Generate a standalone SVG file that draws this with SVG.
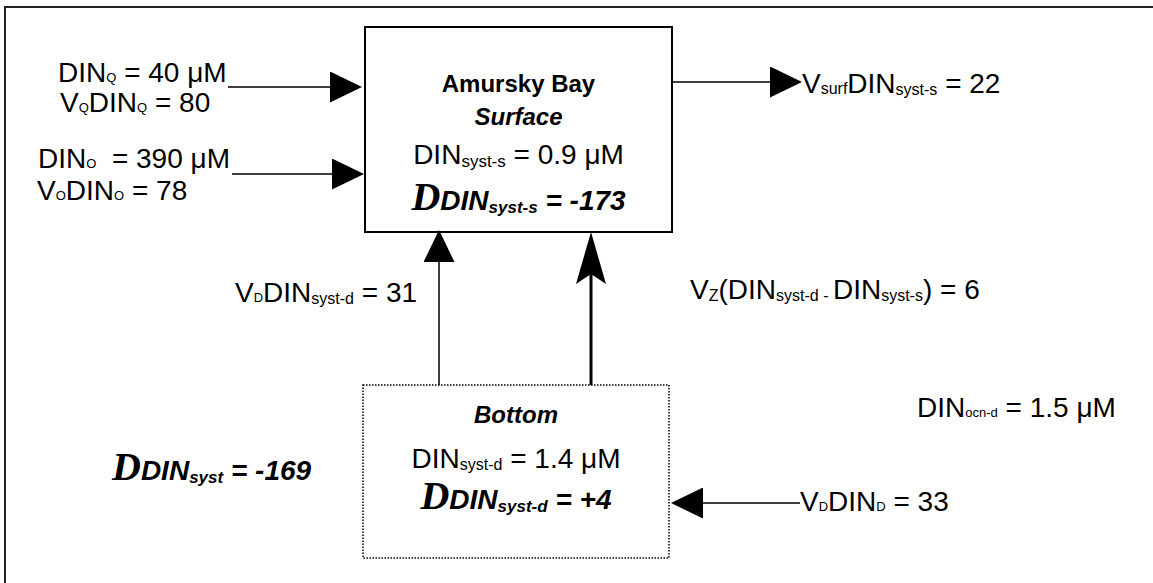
<svg xmlns="http://www.w3.org/2000/svg" width="1153" height="583" viewBox="0 0 1153 583">
<style>
.t{font-family:"Liberation Sans",Arial,sans-serif;font-size:28px;fill:#000}
.h{font-size:24px}
.b{font-weight:bold}
.bi{font-weight:bold;font-style:italic}
.ss{font-size:13px}
.sm{font-size:16px}
.sb{font-size:17px}
.bigD{font-family:"Liberation Serif","Times New Roman",serif;font-weight:bold;font-style:italic;font-size:40px}
.box{fill:#fff;stroke:#000;stroke-width:2}
.dot{fill:#fff;stroke:#000;stroke-width:1.5;stroke-dasharray:1.5 1.5}
.ln{stroke:#000;stroke-width:1.5;fill:none}
.lnb{stroke:#000;stroke-width:3;fill:none}
</style>
<defs>
<marker id="tri" markerUnits="userSpaceOnUse" markerWidth="32" markerHeight="31" refX="0" refY="15.5" orient="auto" viewBox="0 0 32 31"><path d="M0,0 L32,15.5 L0,31 z" fill="#000"/></marker>
<marker id="barb" markerUnits="userSpaceOnUse" markerWidth="52" markerHeight="30" refX="10" refY="15" orient="auto" viewBox="0 0 52 30"><path d="M0,0 L52,15 L0,30 L10,15 z" fill="#000"/></marker>
</defs>
<rect width="1153" height="583" fill="#fff"/>
<g id="frame"><path d="M5,590 L5,7 L1160,7" fill="none" stroke="#222" stroke-width="2"/></g>

<g id="surface">
<rect class="box" x="365" y="27" width="307" height="205"/>
<text class="t b h" x="518.5" y="92" text-anchor="middle">Amursky Bay</text>
<text class="t bi h" x="518.5" y="125" text-anchor="middle">Surface</text>
<text class="t" x="518.5" y="164" text-anchor="middle">DIN<tspan class="sb" dy="3">syst-s</tspan><tspan dy="-3"> = 0.9 μM</tspan></text>
<text class="t bi" x="518.5" y="210" text-anchor="middle"><tspan class="bigD">D</tspan>DIN<tspan class="sb" dy="3">syst-s</tspan><tspan dy="-3"> = -173</tspan></text>
</g>

<g id="bottom">
<rect class="dot" x="363" y="385" width="306" height="173"/>
<text class="t bi h" x="516" y="423" text-anchor="middle">Bottom</text>
<text class="t" x="516" y="468" text-anchor="middle">DIN<tspan class="sm" dy="2">syst-d</tspan><tspan dy="-2"> = 1.4 μM</tspan></text>
<text class="t bi" x="516" y="509" text-anchor="middle"><tspan class="bigD">D</tspan>DIN<tspan class="sb" dy="3">syst-d</tspan><tspan dy="-3"> = +4</tspan></text>
</g>

<g id="connectors">
<line class="ln" x1="228" y1="87" x2="330" y2="87" marker-end="url(#tri)"/>
<line class="ln" x1="232" y1="174" x2="332" y2="174" marker-end="url(#tri)"/>
<line class="ln" x1="672" y1="82" x2="770" y2="82" marker-end="url(#tri)"/>
<line class="ln" x1="439" y1="385" x2="439" y2="262" marker-end="url(#tri)"/>
<line class="lnb" x1="591" y1="385" x2="591" y2="274" marker-end="url(#barb)"/>
<line class="ln" x1="800" y1="503" x2="703" y2="503" marker-end="url(#tri)"/>
</g>

<g id="labels">
<text class="t" x="58" y="82">DIN<tspan class="ss">Q</tspan> = 40 μM</text>
<text class="t" x="60" y="112">V<tspan class="ss">Q</tspan>DIN<tspan class="ss">Q</tspan> = 80</text>
<text class="t" x="38" y="168">DIN<tspan class="ss">O</tspan>&#160; = 390 μM</text>
<text class="t" x="37" y="200">V<tspan class="ss">O</tspan>DIN<tspan class="ss">O</tspan> = 78</text>
<text class="t" x="802" y="93">V<tspan class="sm" dy="1">surf</tspan><tspan dy="-1">DIN</tspan><tspan class="sm" dy="2">syst-s</tspan><tspan dy="-2"> = 22</tspan></text>
<text class="t" x="235" y="302">V<tspan class="ss">D</tspan>DIN<tspan class="sm" dy="2">syst-d</tspan><tspan dy="-2"> = 31</tspan></text>
<text class="t" x="690" y="299">V<tspan class="sm" dy="2">Z</tspan><tspan dy="-2">(DIN</tspan><tspan class="sm" dy="2">syst-d - </tspan><tspan dy="-2">DIN</tspan><tspan class="sm" dy="2">syst-s</tspan><tspan dy="-2">) = 6</tspan></text>
<text class="t bi" x="112" y="480"><tspan class="bigD">D</tspan>DIN<tspan class="sb" dy="3">syst</tspan><tspan dy="-3"> = -169</tspan></text>
<text class="t" x="917" y="417">DIN<tspan class="ss">ocn-d</tspan> = 1.5 μM</text>
<text class="t" x="800" y="511">V<tspan class="ss">D</tspan>DIN<tspan class="ss">D</tspan> = 33</text>
</g>
</svg>
